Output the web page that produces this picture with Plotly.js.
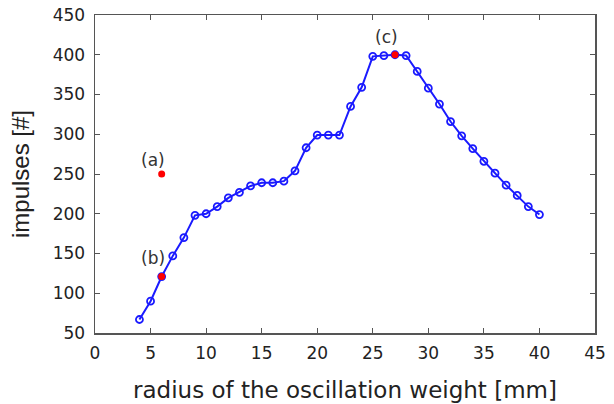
<!DOCTYPE html>
<html>
<head>
<meta charset="utf-8">
<script src="https://cdn.plot.ly/plotly-3.0.1.min.js"></script>
<style>html,body{margin:0;padding:0;background:#fff;}#chart{width:614px;height:404px;}</style>
</head>
<body>
<div id="chart"></div>
<script>
// radius of the oscillation weight [mm]
const radius = [4,5,6,7,8,9,10,11,12,13,14,15,16,17,18,19,20,21,22,23,24,25,26,27,28,29,30,31,32,33,34,35,36,37,38,39,40];
// impulses [#]
const impulses = [67,90,121,147,170,198,200,209,220,227,235,239,239,241,254,283,299,299,299,335,359,398,399,400,399,379,358,338,316,298,282,266,251,236,223,209,199];
// highlighted points
const markX = [6,6,27];
const markY = [250,121,400];
const labelText = ['(a)','(b)','(c)'];
const labelX = [5.2,5.2,26.2];
const labelY = [268,144,422];

const tickFont = {family:'DejaVu Sans, sans-serif', size:17, color:'#222'};

const traces = [
  {x: radius, y: impulses, type:'scatter', mode:'lines+markers',
   line:{color:'#1a1aff', width:2},
   marker:{symbol:'circle-open', size:7, color:'#1a1aff', line:{width:1.8, color:'#1a1aff'}},
   showlegend:false, hoverinfo:'x+y'},
  {x: markX, y: markY, type:'scatter', mode:'markers',
   marker:{symbol:'circle', size:7, color:'#ff0000'},
   showlegend:false}
];

const annotations = labelText.map((t,i)=>({
  x: labelX[i], y: labelY[i], xref:'x', yref:'y', text:t, showarrow:false,
  font:{family:'DejaVu Sans, sans-serif', size:17, color:'#333'}
}));

const layout = {
  width:614, height:404,
  margin:{l:95, r:19, t:15, b:71},
  paper_bgcolor:'#fff', plot_bgcolor:'#fff',
  xaxis:{range:[0,45], dtick:5, tick0:0, ticks:'inside', ticklen:5, tickcolor:'#555',
         mirror:'ticks', showline:true, linecolor:'#555', linewidth:1.5,
         showgrid:false, zeroline:false, tickfont:tickFont, ticklabelstandoff:4,
         title:{text:'radius of the oscillation weight [mm]', standoff:20,
                font:{family:'DejaVu Sans, sans-serif', size:23, color:'#222'}}},
  yaxis:{range:[50,450], dtick:50, tick0:50, ticks:'inside', ticklen:5, tickcolor:'#555',
         mirror:'ticks', showline:true, linecolor:'#555', linewidth:1.5,
         showgrid:false, zeroline:false, tickfont:tickFont, ticklabelstandoff:5,
         title:{text:'impulses [#]', standoff:16,
                font:{family:'Liberation Sans, Arial, sans-serif', size:24, color:'#222'}}},
  annotations: annotations
};

Plotly.newPlot('chart', traces, layout, {displayModeBar:false, staticPlot:true});
</script>
</body>
</html>
